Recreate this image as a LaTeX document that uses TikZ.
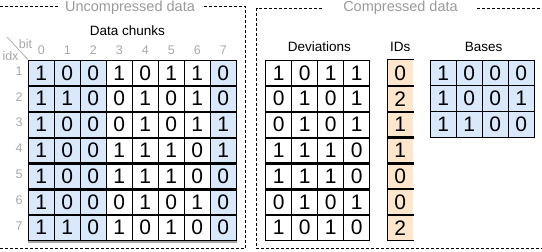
\documentclass[tikz,border=0pt]{standalone}
\usepackage{fontspec}
\setmainfont{Liberation Sans}
\definecolor{bluefill}{HTML}{DAE8FC}
\definecolor{orangefill}{HTML}{FFE6CC}
\definecolor{titlegray}{HTML}{9A9A9A}
\definecolor{labgray}{HTML}{A8A8A8}
\begin{document}
\begin{tikzpicture}[x=1pt,y=-1pt,
  cell/.style={draw=black, line width=0.8pt, minimum width=26pt, minimum height=25.8pt,
    inner sep=0pt, font=\fontsize{21}{21}\selectfont},
  idcell/.style={fill=orangefill, minimum width=26pt, minimum height=25.8pt,
    inner sep=0pt, font=\fontsize{21}{21}\selectfont},
  sepline/.style={line width=2.4pt, black},
  hdr/.style={text=labgray, inner sep=0pt, font=\fontsize{12.5}{12.5}\selectfont},
  lbl/.style={text=black, inner sep=0pt, font=\fontsize{13.5}{13.5}\selectfont, anchor=base},
  ttl/.style={text=titlegray, inner sep=0pt, font=\fontsize{14.5}{14.5}\selectfont, anchor=base},
  frame/.style={black, line width=0.9pt, dash pattern=on 3pt off 2pt}]
\useasboundingbox (0,0) rectangle (542,252);

% ---------- frames ----------
\draw[frame] (58,6) -- (-2,6) -- (-2,248.5) -- (245,248.5) -- (245,6) -- (202,6);
\node[ttl] (tu) at (130,11) {Uncompressed data};
\draw[frame] (322,8) -- (256.7,8) -- (256.7,248.5) -- (545,248.5);
\draw[frame] (477,8) -- (545,8);
\node[ttl] (tc) at (400.5,11) {Compressed data};

% ---------- uncompressed ----------
\node[lbl] (dchunks) at (127.5,35.7) {Data chunks};
\foreach \c in {0,...,7} {
  \node[hdr, anchor=base] (h\c) at ({41.3+26*\c},54) {\c};
}
\foreach \row [count=\r] in {{1,0,0,1,0,1,1,0},{1,1,0,0,1,0,1,0},{1,0,0,0,1,0,1,1},
  {1,0,0,1,1,1,0,1},{1,0,0,1,1,1,0,0},{1,0,0,0,1,0,1,0},{1,1,0,1,0,1,0,0}} {
  \node[hdr] (rl\r) at (19,{70.9+25.8*(\r-1)}) {\r};
  \foreach \v [count=\c from 0] in \row {
    \ifnum\c<3 \def\fc{bluefill}\else\ifnum\c=7 \def\fc{bluefill}\else\def\fc{white}\fi\fi
    \node[cell, fill=\fc] (u-\r-\c) at ({41.3+26*\c},{72.9+25.8*(\r-1)}) {\v};
  }
}
\foreach \r in {1,...,6} {
  \draw[sepline] (u-\r-0.south west) -- (u-\r-7.south east);
}
\draw[line width=2pt, gray!70] ([yshift=-0.6pt]u-7-0.south west) -- ([yshift=-0.6pt]u-7-7.south east);
\coordinate (diagstart) at (7,37);
\draw[labgray, line width=0.7pt] (diagstart) -- (u-1-0.north west);
\node[hdr, anchor=base] (bitl) at (25.5,48) {bit};
\node[hdr, anchor=base] (idxl) at (10.5,60) {idx};

% ---------- deviations ----------
\node[lbl] (devl) at (319.3,51.7) {Deviations};
\foreach \row [count=\r] in {{1,0,1,1},{0,1,0,1},{0,1,0,1},{1,1,1,0},{1,1,1,0},{0,1,0,1},{1,0,1,0}} {
  \foreach \v [count=\c from 0] in \row {
    \node[cell, fill=white] (d-\r-\c) at ({278.7+26*\c},{72.9+25.8*(\r-1)}) {\v};
  }
}
\foreach \r in {1,...,6} {
  \draw[sepline] (d-\r-0.south west) -- (d-\r-3.south east);
}

% ---------- IDs ----------
\node[lbl] (idsl) at (400.3,51.7) {IDs};
\foreach \v [count=\r] in {0,2,1,1,0,0,2} {
  \node[idcell] (id-\r) at (400.3,{72.9+25.8*(\r-1)}) {\v};
}
\draw[line width=0.8pt] (id-1.north east) -- (id-1.north west) -- (id-7.south west) -- (id-7.south east);
\foreach \r in {1,...,6} {
  \draw[sepline] (id-\r.south west) -- (id-\r.south east);
}

% ---------- bases ----------
\node[lbl] (basl) at (483.7,51.7) {Bases};
\foreach \row [count=\r] in {{1,0,0,0},{1,0,0,1},{1,1,0,0}} {
  \foreach \v [count=\c from 0] in \row {
    \node[cell, fill=bluefill] (b-\r-\c) at ({443.3+26*\c},{72.9+25.8*(\r-1)}) {\v};
  }
}
\end{tikzpicture}
\end{document}
